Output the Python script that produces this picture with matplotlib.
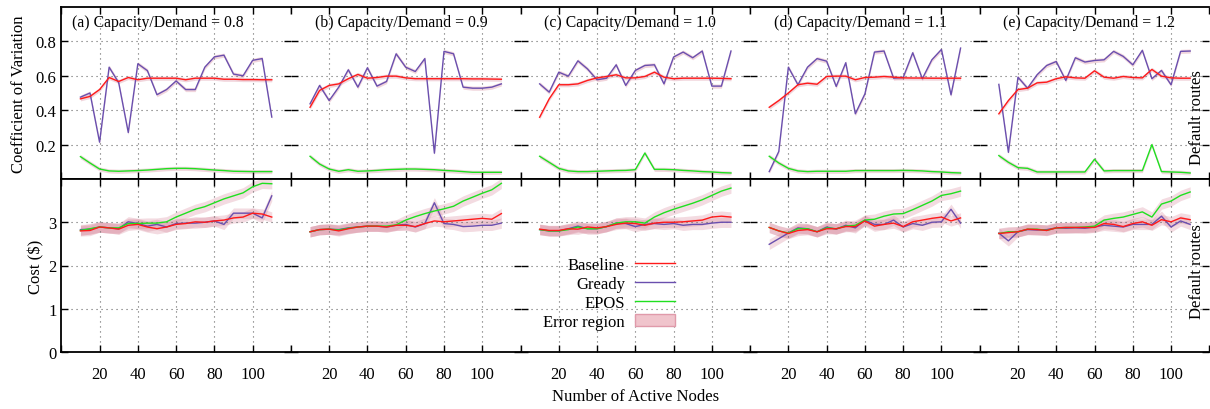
import matplotlib
matplotlib.use('Agg')
import matplotlib.pyplot as plt
from matplotlib.lines import Line2D
from matplotlib.patches import Patch
import numpy as np

plt.rcParams['font.family'] = ['Liberation Serif', 'DejaVu Serif']
plt.rcParams['font.size'] = 12

nodes = list(range(10, 115, 5))
ratios = ['0.8', '0.9', '1.0', '1.1', '1.2']
letters = ['a', 'b', 'c', 'd', 'e']

# coefficient of variation, one row per capacity/demand ratio
cv_baseline = [
    [0.466, 0.48, 0.52, 0.59, 0.567, 0.59, 0.577, 0.586, 0.586, 0.586, 0.586,
     0.577, 0.586, 0.586, 0.586, 0.58, 0.58, 0.578, 0.578, 0.577, 0.577],
    [0.417, 0.515, 0.544, 0.553, 0.583, 0.608, 0.586, 0.59, 0.598, 0.598, 0.588,
     0.583, 0.583, 0.583, 0.583, 0.583, 0.583, 0.582, 0.582, 0.581, 0.58],
    [0.359, 0.466, 0.548, 0.548, 0.553, 0.573, 0.588, 0.596, 0.606, 0.588, 0.588,
     0.596, 0.621, 0.592, 0.583, 0.586, 0.586, 0.586, 0.586, 0.585, 0.583],
    [0.417, 0.456, 0.50, 0.548, 0.557, 0.551, 0.596, 0.598, 0.598, 0.577, 0.59,
     0.592, 0.596, 0.592, 0.588, 0.587, 0.587, 0.586, 0.586, 0.586, 0.586],
    [0.379, 0.456, 0.52, 0.528, 0.559, 0.563, 0.583, 0.594, 0.588, 0.586, 0.629,
     0.592, 0.586, 0.596, 0.59, 0.588, 0.637, 0.598, 0.588, 0.586, 0.586],
]
cv_greedy = [
    [0.476, 0.50, 0.214, 0.65, 0.56, 0.27, 0.67, 0.63, 0.49, 0.52, 0.57,
     0.52, 0.52, 0.65, 0.71, 0.72, 0.61, 0.60, 0.69, 0.70, 0.36],
    [0.437, 0.544, 0.456, 0.534, 0.635, 0.534, 0.647, 0.54, 0.567, 0.728, 0.65,
     0.625, 0.70, 0.15, 0.742, 0.728, 0.534, 0.528, 0.528, 0.534, 0.553],
    [0.553, 0.505, 0.621, 0.598, 0.687, 0.64, 0.577, 0.586, 0.664, 0.544, 0.631,
     0.66, 0.664, 0.553, 0.709, 0.738, 0.705, 0.744, 0.54, 0.54, 0.744],
    [0.043, 0.16, 0.65, 0.548, 0.65, 0.70, 0.685, 0.538, 0.676, 0.379, 0.495,
     0.738, 0.744, 0.586, 0.59, 0.734, 0.583, 0.693, 0.753, 0.489, 0.761],
    [0.55, 0.155, 0.592, 0.528, 0.606, 0.66, 0.683, 0.573, 0.705, 0.68, 0.689,
     0.693, 0.742, 0.713, 0.664, 0.748, 0.583, 0.631, 0.548, 0.742, 0.744],
]
cv_epos = [
    [0.13, 0.093, 0.058, 0.047, 0.045, 0.047, 0.049, 0.052, 0.056, 0.06, 0.062,
     0.062, 0.06, 0.056, 0.052, 0.049, 0.045, 0.044, 0.043, 0.043, 0.043],
    [0.132, 0.087, 0.058, 0.045, 0.054, 0.045, 0.047, 0.05, 0.054, 0.056, 0.058,
     0.058, 0.056, 0.054, 0.05, 0.047, 0.043, 0.039, 0.039, 0.039, 0.039],
    [0.132, 0.097, 0.062, 0.047, 0.043, 0.043, 0.045, 0.047, 0.049, 0.05, 0.054,
     0.151, 0.056, 0.056, 0.054, 0.05, 0.047, 0.043, 0.041, 0.037, 0.035],
    [0.132, 0.093, 0.062, 0.047, 0.043, 0.045, 0.045, 0.045, 0.045, 0.049, 0.049,
     0.049, 0.049, 0.049, 0.05, 0.049, 0.047, 0.043, 0.041, 0.037, 0.035],
    [0.136, 0.097, 0.066, 0.062, 0.041, 0.041, 0.041, 0.041, 0.041, 0.041, 0.115,
     0.047, 0.049, 0.049, 0.049, 0.049, 0.20, 0.043, 0.041, 0.039, 0.035],
]

# cost in dollars
cost_baseline = [
    [2.80, 2.81, 2.89, 2.87, 2.84, 2.93, 2.95, 2.89, 2.85, 2.89, 2.95,
     2.97, 3.01, 3.00, 3.03, 3.05, 3.10, 3.12, 3.21, 3.19, 3.12],
    [2.78, 2.83, 2.84, 2.80, 2.85, 2.89, 2.91, 2.91, 2.89, 2.93, 2.93,
     2.90, 2.97, 3.03, 3.01, 3.03, 3.05, 3.07, 3.09, 3.07, 3.20],
    [2.84, 2.81, 2.81, 2.85, 2.84, 2.89, 2.87, 2.90, 2.95, 2.98, 2.97,
     2.93, 2.98, 3.00, 3.00, 3.01, 3.03, 3.05, 3.12, 3.14, 3.12],
    [2.88, 2.80, 2.74, 2.81, 2.83, 2.78, 2.85, 2.85, 2.90, 2.90, 3.03,
     2.91, 2.95, 2.98, 2.90, 3.01, 3.05, 3.09, 3.12, 3.03, 3.10],
    [2.74, 2.76, 2.78, 2.84, 2.83, 2.81, 2.87, 2.88, 2.88, 2.88, 2.88,
     2.97, 2.95, 2.90, 2.97, 3.01, 2.93, 3.06, 3.01, 3.10, 3.06],
]
cost_greedy = [
    [2.83, 2.84, 2.89, 2.87, 2.85, 3.01, 2.97, 2.91, 2.95, 2.89, 2.97,
     2.98, 2.98, 3.00, 3.03, 2.95, 3.21, 3.21, 3.21, 3.10, 3.61],
    [2.78, 2.83, 2.84, 2.83, 2.87, 2.89, 2.91, 2.91, 2.89, 2.93, 2.95,
     2.89, 2.97, 3.45, 2.97, 2.95, 2.90, 2.91, 2.93, 2.93, 2.98],
    [2.83, 2.80, 2.80, 2.85, 2.91, 2.85, 2.85, 2.90, 2.98, 2.97, 2.90,
     2.95, 2.97, 2.95, 2.97, 2.93, 2.95, 2.95, 2.98, 3.00, 3.00],
    [2.49, 2.62, 2.75, 2.87, 2.85, 2.78, 2.89, 2.84, 2.93, 2.87, 3.05,
     2.95, 2.95, 3.05, 2.89, 2.97, 2.93, 3.00, 3.01, 3.30, 2.98],
    [2.75, 2.57, 2.78, 2.83, 2.82, 2.83, 2.87, 2.86, 2.87, 2.86, 2.89,
     2.93, 2.91, 2.89, 2.95, 2.95, 2.95, 3.14, 2.89, 3.03, 2.95],
]
cost_epos = [
    [2.81, 2.85, 2.89, 2.87, 2.87, 2.97, 2.97, 2.98, 2.98, 3.01, 3.12,
     3.21, 3.30, 3.36, 3.45, 3.54, 3.61, 3.68, 3.82, 3.90, 3.89],
    [2.78, 2.83, 2.84, 2.82, 2.86, 2.89, 2.91, 2.91, 2.91, 2.94, 3.05,
     3.13, 3.20, 3.26, 3.31, 3.37, 3.49, 3.58, 3.67, 3.75, 3.90],
    [2.83, 2.80, 2.80, 2.83, 2.89, 2.85, 2.85, 2.90, 2.98, 3.01, 3.01,
     2.98, 3.12, 3.22, 3.30, 3.37, 3.44, 3.52, 3.62, 3.72, 3.79],
    [2.88, 2.80, 2.75, 2.85, 2.85, 2.78, 2.87, 2.85, 2.91, 2.93, 3.05,
     3.07, 3.14, 3.19, 3.20, 3.29, 3.39, 3.49, 3.62, 3.66, 3.72],
    [2.74, 2.78, 2.78, 2.84, 2.84, 2.81, 2.87, 2.88, 2.88, 2.89, 2.91,
     3.05, 3.09, 3.12, 3.18, 3.24, 3.12, 3.42, 3.49, 3.62, 3.70],
]
cv_err = 0.012
cost_err = 0.12

c_base = '#ff1a1a'
c_greedy = '#6a4fae'
c_epos = '#1fe01f'
c_band = '#d8899c'

fig = plt.figure(figsize=(12.1, 4.1), dpi=100)
W, H = 1210.0, 410.0
left0 = 61.3
pw = 229.6
rows = [(8, 180), (180, 353)]

x = np.array(nodes)


def style(ax, first, ylim, yticks, show_x):
    ax.set_xlim(0, 120)
    ax.set_ylim(*ylim)
    ax.set_xticks([20, 40, 60, 80, 100])
    ax.set_xticks([0, 120], minor=True)
    ax.set_yticks(yticks)
    ax.grid(True, which='major', linestyle=(0, (1, 3.5)), color='#666666', lw=0.8)
    ax.tick_params(which='both', direction='in', length=5, width=1.0,
                   top=True, bottom=True, left=True, right=True, labelsize=12)
    ax.tick_params(axis='x', pad=10)
    ax.spines['right'].set_visible(False)
    if not first:
        ax.spines['left'].set_visible(False)
        ax.tick_params(labelleft=False)
    for s in ('top', 'bottom', 'left'):
        ax.spines[s].set_linewidth(1.3)
    if not show_x:
        ax.tick_params(labelbottom=False)


for i in range(5):
    l = (left0 + i * pw) / W
    # top row: coefficient of variation
    t, b = rows[0]
    ax = fig.add_axes([l, 1 - b / H, pw / W, (b - t) / H])
    for ys, c in ((cv_greedy[i], c_greedy), (cv_baseline[i], c_base), (cv_epos[i], c_epos)):
        ys = np.array(ys)
        ax.fill_between(x, ys - cv_err, ys + cv_err, color=c_band, alpha=0.35, lw=0)
        ax.plot(x, ys, color=c, lw=1.0)
    style(ax, i == 0, (0, 1.0), [0.2, 0.4, 0.6, 0.8], False)
    tx = 0.047 if i == 0 else 0.103
    ax.text(tx, 0.915, '(%s) Capacity/Demand = %s' % (letters[i], ratios[i]),
            transform=ax.transAxes, va='center', ha='left', fontsize=11.3)
    if i == 0:
        ax.set_ylabel('Coefficient of Variation', fontsize=12, labelpad=6)

    # bottom row: cost
    t, b = rows[1]
    ax2 = fig.add_axes([l, 1 - b / H, pw / W, (b - t) / H])
    for ys, c in ((cost_greedy[i], c_greedy), (cost_epos[i], c_epos), (cost_baseline[i], c_base)):
        ys = np.array(ys)
        ax2.fill_between(x, ys - cost_err, ys + cost_err, color=c_band, alpha=0.3, lw=0)
        ax2.plot(x, ys, color=c, lw=1.0)
    style(ax2, i == 0, (0, 4), [0, 1, 2, 3], True)
    if i == 0:
        ax2.set_ylabel('Cost ($)', fontsize=12, labelpad=3)
    if i == 2:
        handles = [Line2D([], [], color=c_base, lw=1.0),
                   Line2D([], [], color=c_greedy, lw=1.0),
                   Line2D([], [], color=c_epos, lw=1.0),
                   Patch(facecolor='#f0c4cc', edgecolor='#e09aaa', lw=1.0)]
        ax2.legend(handles, ['Baseline', 'Gready', 'EPOS', 'Error region'],
                   markerfirst=False, frameon=False, loc='upper left',
                   bbox_to_anchor=(0.1, 0.55), handlelength=2.4,
                   handletextpad=0.6, labelspacing=0.18, fontsize=12,
                   borderpad=0, borderaxespad=0)

fig.text(1197 / W, 1 - 118 / H, 'Default routes', rotation=90, ha='center', va='center', fontsize=12)
fig.text(1197 / W, 1 - 272 / H, 'Default routes', rotation=90, ha='center', va='center', fontsize=12)
fig.text(636 / W, 1 - 397 / H, 'Number of Active Nodes', ha='center', va='center', fontsize=12)

fig.savefig('out.png', dpi=100)
